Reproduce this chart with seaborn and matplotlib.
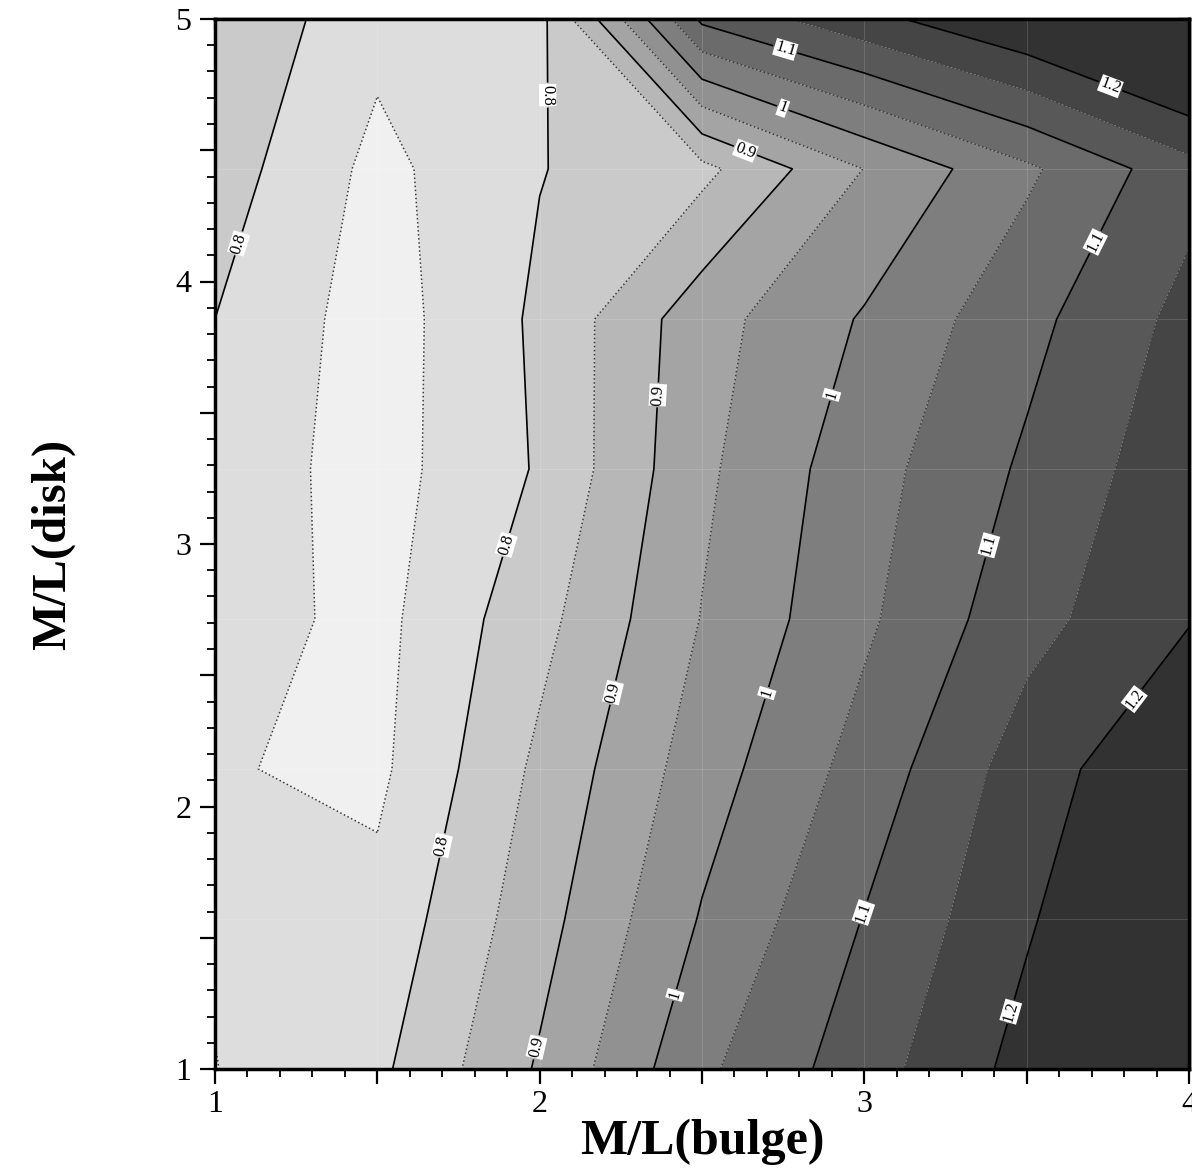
import numpy as np
import pandas as pd
import matplotlib
matplotlib.use("Agg")
import matplotlib.pyplot as plt
import seaborn as sns
from matplotlib.ticker import MultipleLocator, FuncFormatter, NullFormatter

# ---------------- data ----------------
ml_bulge = [1.0, 1.5, 2.0, 2.5, 3.0, 3.5, 4.0]
ml_disk = [1.0, 1.571, 2.143, 2.714, 3.286, 3.857, 4.429, 5.0]

fit_row_1 = [0.749, 0.789, 0.906, 1.040, 1.128, 1.218, 1.290]
fit_row_2 = [0.755, 0.765, 0.881, 1.004, 1.102, 1.194, 1.280]
fit_row_3 = [0.754, 0.739, 0.861, 0.976, 1.070, 1.175, 1.250]
fit_row_4 = [0.774, 0.735, 0.834, 0.952, 1.041, 1.133, 1.197]
fit_row_5 = [0.780, 0.729, 0.805, 0.940, 1.030, 1.108, 1.185]
fit_row_6 = [0.800, 0.726, 0.809, 0.930, 1.005, 1.085, 1.166]
fit_row_7 = [0.826, 0.736, 0.798, 0.836, 0.951, 1.041, 1.132]
fit_row_8 = [0.845, 0.765, 0.785, 1.110, 1.184, 1.249, 1.325]

fill_levels = [0.70, 0.75, 0.80, 0.85, 0.90, 0.95, 1.00, 1.05, 1.10, 1.15, 1.20, 1.40]
solid_levels = [0.80, 0.90, 1.00, 1.10, 1.20]
dotted_levels = [0.75, 0.85, 0.95, 1.05, 1.15]

# label anchor points (data coordinates)
label_pos = [(2.016, 4.71), (1.899, 2.996), (1.693, 1.853), (1.068, 4.147),
             (2.632, 4.493), (2.361, 3.568), (2.232, 2.432), (1.986, 1.084),
             (2.749, 4.661), (2.900, 3.568), (2.700, 2.432), (2.417, 1.282),
             (2.756, 4.882), (3.717, 4.147), (3.381, 2.996), (2.993, 1.598),
             (3.757, 4.741), (3.827, 2.413), (3.455, 1.217)]

rows = [fit_row_1, fit_row_2, fit_row_3, fit_row_4,
        fit_row_5, fit_row_6, fit_row_7, fit_row_8]
records = []
for yv, row in zip(ml_disk, rows):
    for xv, zv in zip(ml_bulge, row):
        records.append({"bulge": xv, "disk": yv, "fit": zv})
df = pd.DataFrame(records)
grid = df.pivot(index="disk", columns="bulge", values="fit")
X, Y = np.meshgrid(grid.columns.values, grid.index.values)
Z = grid.values

# ---------------- style ----------------
sns.set_style("ticks")
plt.rcParams["font.family"] = ["Liberation Serif", "DejaVu Serif"]
plt.rcParams["text.color"] = "black"
plt.rcParams["axes.labelcolor"] = "black"
plt.rcParams["xtick.color"] = "black"
plt.rcParams["ytick.color"] = "black"

palette = sns.blend_palette(["#f0f0f0", "#323232"], n_colors=len(fill_levels) - 1)

fig = plt.figure(figsize=(11.92, 11.72), dpi=100)
ax = fig.add_axes([215 / 1192, 1 - 1069 / 1172, (1189 - 215) / 1192, (1069 - 19) / 1172])

ax.contourf(X, Y, Z, levels=fill_levels, colors=palette, antialiased=True)

for xv in ml_bulge[1:-1]:
    ax.axvline(xv, color="white", alpha=0.14, lw=0.7, zorder=1.5)
for yv in ml_disk[1:-1]:
    ax.axhline(yv, color="white", alpha=0.14, lw=0.7, zorder=1.5)

ax.contour(X, Y, Z, levels=dotted_levels, colors="#3c3c3c",
           linewidths=1.1, linestyles=":")
cs = ax.contour(X, Y, Z, levels=solid_levels, colors="black",
                linewidths=1.2, linestyles="-")
labels = ax.clabel(cs, manual=label_pos, inline=True, fontsize=12,
                   fmt=lambda v: f"{v:g}", inline_spacing=2)
for t in labels:
    t.set_bbox(dict(facecolor="white", edgecolor="none", pad=0.5))
    t.set_color("black")

ax.set_xlim(1, 4)
ax.set_ylim(1, 5)

int_fmt = FuncFormatter(lambda v, p: f"{v:g}" if abs(v - round(v)) < 1e-6 else "")
for axis in (ax.xaxis, ax.yaxis):
    axis.set_major_locator(MultipleLocator(0.5))
    axis.set_minor_locator(MultipleLocator(0.1))
    axis.set_major_formatter(int_fmt)

ax.tick_params(axis="both", which="major", direction="out", length=11,
               width=1.6, labelsize=23, color="black", labelcolor="black")
ax.tick_params(axis="both", which="minor", direction="out", length=5.5,
               width=1.3, color="black")
ax.tick_params(axis="x", which="major", pad=4)
ax.tick_params(axis="y", which="major", pad=6)

sx = ax.secondary_xaxis("top")
sx.xaxis.set_major_locator(MultipleLocator(0.5))
sx.xaxis.set_minor_locator(MultipleLocator(0.1))
sx.xaxis.set_major_formatter(NullFormatter())
sx.tick_params(which="major", direction="in", length=8, width=1.6, color="black")
sx.tick_params(which="minor", direction="in", length=4, width=1.3, color="black")

sy = ax.secondary_yaxis("right")
sy.yaxis.set_major_locator(MultipleLocator(0.5))
sy.yaxis.set_minor_locator(MultipleLocator(0.1))
sy.yaxis.set_major_formatter(NullFormatter())
sy.tick_params(which="major", direction="in", length=8, width=1.6, color="black")
sy.tick_params(which="minor", direction="in", length=4, width=1.3, color="black")

for s in list(ax.spines.values()) + list(sx.spines.values()) + list(sy.spines.values()):
    s.set_linewidth(2.5)
    s.set_color("black")

ax.set_xlabel("M/L(bulge)", fontsize=36, fontweight="bold", labelpad=0)
ax.set_ylabel("M/L(disk)", fontsize=35, fontweight="bold", labelpad=72)

fig.savefig("out.png", dpi=100)
